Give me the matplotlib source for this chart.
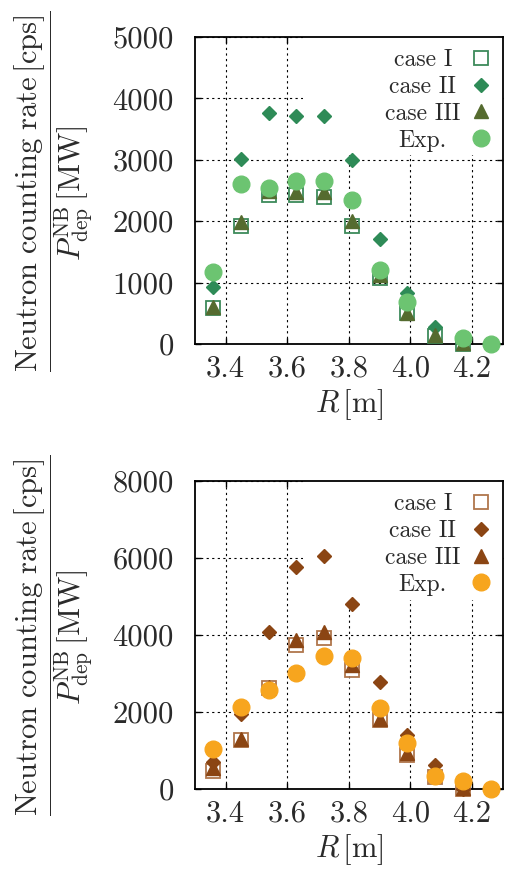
import numpy as np
import matplotlib
matplotlib.use("Agg")
import matplotlib.pyplot as plt
from matplotlib.patches import Rectangle

# --- data ---
R = [3.36, 3.45, 3.54, 3.63, 3.72, 3.81, 3.90, 3.99, 4.08, 4.17, 4.26]
nan = np.nan

# upper panel (green)
case1_top = [590, 1930, 2420, 2420, 2400, 1930, 1075, 500, 135, 0, nan]
case2_top = [930, 3010, 3770, 3720, 3720, 3000, 1710, 830, 270, 30, nan]
case3_top = [610, 1980, 2490, 2470, 2470, 2010, 1130, 510, 145, 20, nan]
exp_top = [1180, 2610, 2540, 2650, 2650, 2340, 1210, 680, nan, 90, 0]

# lower panel (brown / orange)
case1_bot = [470, 1270, 2630, 3730, 3930, 3080, 1790, 880, 320, 0, nan]
case2_bot = [710, 1950, 4080, 5770, 6050, 4800, 2780, 1400, 620, 0, nan]
case3_bot = [540, 1310, 2660, 3870, 4080, 3210, 1820, 930, 450, 30, nan]
exp_bot = [1040, 2140, 2570, 3020, 3450, 3410, 2110, 1190, 340, 210, 0]

labels = ["case I", "case II", "case III", "Exp."]
xticks = [3.4, 3.6, 3.8, 4.0, 4.2]
yticks_top = [0, 1000, 2000, 3000, 4000, 5000]
yticks_bot = [0, 2000, 4000, 6000, 8000]

plt.rcParams["font.family"] = "cmr10"
plt.rcParams["mathtext.fontset"] = "cm"
plt.rcParams["axes.formatter.use_mathtext"] = True
plt.rcParams["text.color"] = "#2a2a2a"
plt.rcParams["xtick.labelcolor"] = "#2a2a2a"
plt.rcParams["ytick.labelcolor"] = "#2a2a2a"
plt.rcParams["axes.labelcolor"] = "#2a2a2a"

YLABEL = (r"$\dfrac{\mathrm{Neutron\ counting\ rate}\,[\mathrm{cps}]}"
          r"{P^{\mathrm{NB}}_{\mathrm{dep}}\,[\mathrm{MW}]}$")


def draw_panel(ax, series, colors, yticks):
    c_sq, c_dia, c_tri, c_exp = colors
    ax.plot(R, series[0], ls="none", marker="s", ms=10.5, mfc="none",
            mec=c_sq, mew=1.3, label=labels[0], clip_on=False, zorder=3)
    ax.plot(R, series[1], ls="none", marker="D", ms=7.6, color=c_dia,
            mec=c_dia, label=labels[1], clip_on=False, zorder=3)
    ax.plot(R, series[2], ls="none", marker="^", ms=10.5, color=c_tri,
            mec=c_tri, label=labels[2], clip_on=False, zorder=3)
    ax.plot(R, series[3], ls="none", marker="o", ms=12, color=c_exp,
            mec=c_exp, label=labels[3], clip_on=False, zorder=3)

    ax.set_xlim(3.3, 4.3)
    ax.set_ylim(yticks[0], yticks[-1])
    ax.set_xticks(xticks, labels=[f"{v:.1f}" for v in xticks])
    ax.set_yticks(yticks, labels=[str(v) for v in yticks])
    ax.tick_params(axis="both", direction="in", length=4, width=1,
                   top=True, right=True, labelsize=22)
    ax.tick_params(axis="x", pad=8)
    ax.tick_params(axis="y", pad=15)
    ax.set_axisbelow(True)
    ax.grid(True, color="black", lw=0.8, ls=(0, (2, 3)))
    for sp in ax.spines.values():
        sp.set_linewidth(1.3)
    ax.set_xlabel(r"$R\,[\mathrm{m}]$", fontsize=22, labelpad=3)

    # key background (hides the grid under the key, as in the original)
    ax.add_patch(Rectangle((0.35, 0.615), 0.65, 0.385, transform=ax.transAxes,
                           facecolor="white", edgecolor="none", zorder=1))

    leg = ax.legend(loc="upper right", bbox_to_anchor=(1.0, 1.0),
                    markerfirst=False, frameon=False,
                    fontsize=17, handlelength=0.9, handletextpad=0.4,
                    labelspacing=0.2, borderpad=0.2, borderaxespad=0.3,
                    numpoints=1)
    return leg


fig = plt.figure(figsize=(5.07, 8.72), dpi=100)
ax1 = fig.add_axes([0.384, 0.6055, 0.608, 0.352])
ax2 = fig.add_axes([0.384, 0.0952, 0.608, 0.353])

leg1 = draw_panel(ax1, [case1_top, case2_top, case3_top, exp_top],
                  ["#3d8a5a", "#2e8b57", "#556b2f", "#6cc471"], yticks_top)
leg2 = draw_panel(ax2, [case1_bot, case2_bot, case3_bot, exp_bot],
                  ["#b0764c", "#8b4513", "#8b4513", "#f7a51e"], yticks_bot)

fig.text(0.1055, 0.780, YLABEL, rotation=90, ha="center", va="center",
         fontsize=22)
fig.text(0.1055, 0.2718, YLABEL, rotation=90, ha="center", va="center",
         fontsize=22)

# centre the key texts like the original
fig.canvas.draw()
for leg in (leg1, leg2):
    texts = leg.get_texts()
    widths = [t.get_window_extent().width for t in texts]
    W = max(widths)
    for t, w in zip(texts, widths):
        t.set_x(t.get_position()[0] - (W - w) / 2)

fig.savefig("out.png", dpi=100)
